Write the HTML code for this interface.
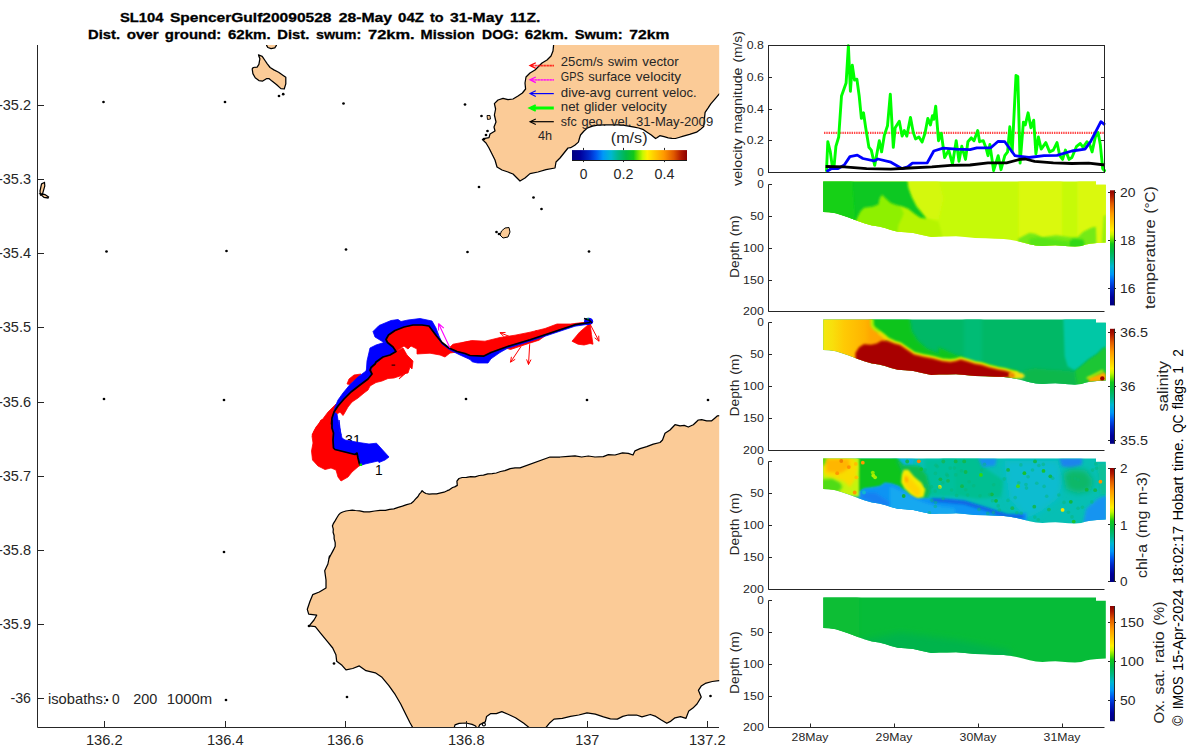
<!DOCTYPE html>
<html><head><meta charset="utf-8"><title>SL104 SpencerGulf20090528</title>
<style>
html,body{margin:0;padding:0;background:#fff;}
body{width:1200px;height:750px;overflow:hidden;font-family:"Liberation Sans",sans-serif;}
svg{display:block;font-family:"Liberation Sans",sans-serif;}
</style></head><body>
<svg width="1200" height="750" viewBox="0 0 1200 750">
<rect width="1200" height="750" fill="#fff"/>
<defs><clipPath id="mapclip"><rect x="37.5" y="45" width="681.7" height="682.5"/></clipPath></defs><g clip-path="url(#mapclip)"><path d="M760,720 L760,410 L743.3,415 L717.5,415.8 L715,418 L711.7,420.8 L706.7,420.8 L701.7,419.7 L698.3,420 L693.3,424.7 L688.3,427 L684.2,425.3 L680,425.8 L675,424.7 L670,430 L665,433.3 L662.5,440 L660,442.5 L653.3,444.2 L646.7,446.7 L640,448.7 L635,450.8 L633,455 L628.3,453.3 L622.5,452.8 L615,455 L608.3,454.7 L603.3,456.7 L595,457 L588.3,456 L581.7,457 L575,455.8 L568.3,456.3 L560,457 L550,457 L520,467.9 L515.1,467.9 L510.2,468.7 L504.9,470.6 L500.6,471.5 L496.3,473 L492.1,473.6 L487.8,473.8 L483.5,475.1 L479.3,475.5 L475,476.8 L470.7,476.6 L466.5,477.3 L462.2,477.5 L459,478.5 L456.9,481.1 L457.3,485.4 L454.7,486.9 L452.6,487.5 L449.4,489.8 L447.2,490.7 L444,492.2 L440.8,492.8 L436.6,493.9 L432.3,493.9 L429.1,494.1 L425.9,493.5 L423.8,492.2 L422.1,490.7 L420.8,492.6 L419.5,493.9 L418,496.5 L416.3,498.2 L413.7,501.2 L411,503.5 L406.7,504.6 L402.4,506.1 L398.2,507.3 L393.9,508.8 L389.6,509.3 L385.4,510.3 L380,510.3 L374.7,511 L369.4,511.8 L364,511.8 L359.8,510.8 L355.5,510.5 L352.3,510.1 L349.1,510.5 L345.9,511 L342.7,512 L340.1,513.3 L338.4,515.2 L336.7,518 L335.2,520.6 L333.5,523.3 L332.4,525.9 L333.3,529.1 L333.1,532.3 L334.1,535.5 L334.1,538.7 L335.2,542.6 L335.2,546.2 L333.7,549.4 L332,552.6 L330.3,555.8 L328.8,559 L329.5,556 L327.9,564 L324.7,570.7 L326,580 L326,588 L319.3,592 L312.7,594.7 L310,601.3 L307.3,609.3 L308.7,614.1 L316.7,615.2 L314,620 L309.2,625.9 L315.3,626.7 L320.7,633.3 L327.3,641.3 L332.7,648 L335.9,654.7 L336.7,661.3 L342,665.3 L346,669.9 L352.7,668.5 L359.3,665.9 L366,670.7 L375.3,672.8 L382,677.3 L388.7,685.3 L395.3,694.7 L400.7,704 L406,714.7 L410,722.7 L412.7,727.5 L412.4,727.7 L545.8,727.7 L549.9,722.7 L554,719.1 L562.3,718.3 L570.5,716.4 L578.8,715 L587,712.8 L595.3,714.2 L603.5,716.9 L610.4,718.9 L617.3,719.1 L622.8,716.4 L628.3,715 L636.5,715 L642,716.9 L650.3,714.5 L655.8,716.4 L661.3,720 L666.8,723.3 L670.9,721.1 L675,717.8 L680.5,716.7 L686,718.3 L688.8,710.9 L692.9,708.1 L697,704 L701.2,697.1 L698.4,690.3 L701.2,686.1 L705.3,683.4 L712.2,681.5 L719,680.6 L757.5,680.6Z" fill="#fbcb97" stroke="#000" stroke-width="1.25" stroke-linejoin="round"/>
<path d="M478.4,727.7 L479.8,724.6 L485.3,721.9 L486.6,716.4 L490.8,713.6 L496.3,713.6 L501.8,711.7 L508.6,714.5 L515.5,717.8 L523.8,723.3 L529.3,727.7" fill="#fff" stroke="#000" stroke-width="1.25" stroke-linejoin="round"/>
<path d="M454.2,727.7 L455,724.9 L459.1,723.3 L466,723 L472.1,724.4 L475.6,726 L476.5,727.7" fill="#fff" stroke="#000" stroke-width="1.25" stroke-linejoin="round"/>
<circle cx="483.9" cy="724.4" r="1.5" fill="#fff" stroke="#000" stroke-width="1.1"/>
<path d="M553.6,24 L553.6,45 L553,51 L551,56 L547,60 L542,63 L538,67 L535,70 L530,73 L526,77 L525,83 L525.6,89 L522.4,93 L518,96 L513,99 L508,99.6 L503,98.4 L498,100 L494.4,103.6 L495.6,109 L494.4,115 L496,122 L494,127 L495,131 L490,134 L489,137.6 L485,138.4 L482.4,139.6 L486,143 L489,148 L492,154 L495,160 L497,167 L502,170 L508,172 L513,174 L518,179 L520,181 L525,178 L530,173.6 L538,172 L546,169.6 L555,168 L556,162 L560,158 L564,153 L568,148 L570.6,147.7 L574.8,145.2 L578.4,142.1 L579.4,138.5 L580.5,135 L584,131 L587.6,127.9 L592.5,126.2 L597.5,125.1 L604.6,124.8 L611.7,124.8 L617.3,124.8 L623,125.1 L628.7,126.1 L634.3,127.2 L638.6,128 L642.8,129.3 L647.1,132.2 L651.3,135 L653.4,136.7 L655.6,138.5 L657.3,137.5 L659.8,135.7 L664.1,136.7 L668.3,137.8 L671.9,138.4 L675.4,138.5 L678.9,137.5 L682.5,136.4 L689.6,134.4 L696.6,132.2 L700.2,129.6 L703.7,126.5 L704.4,119.4 L705.1,112.3 L708,108.1 L710.8,103.8 L715.1,98.9 L719.3,93.9 L767.5,78.3 L767.5,35.8Z" fill="#fbcb97" stroke="#000" stroke-width="1.25" stroke-linejoin="round"/>
<path d="M258.5,54.9 L262.2,56.3 L265,60.5 L267.3,63.8 L270.1,67.5 L273.9,69.9 L278.6,72.2 L283.2,75.5 L285.8,77.3 L285.8,83.9 L284.2,89 L280.9,88.6 L276.7,84.8 L272,81.1 L269.2,78.7 L266.4,78.7 L262.7,81.1 L258.9,80.6 L255.2,77.8 L252.9,73.6 L252.2,68.9 L253.3,67.5 L257.1,67.1 L258.9,64.3 L259.9,58.7 L258.9,56.3Z" fill="#fbcb97" stroke="#000" stroke-width="1.25" stroke-linejoin="round"/>
<path d="M266.4,42.8 L266.6,45.4 L267.8,47.5 L271.1,48.6 L274.8,47.9 L276.4,45.4 L276.5,42.8Z" fill="#fbcb97" stroke="#000" stroke-width="1.25" stroke-linejoin="round"/>
<path d="M40,191 L41.5,184 L44.5,182.5 L44.8,186 L42.5,194 L40.5,195Z" fill="#fbcb97" stroke="#000" stroke-width="1.2"/>
<path d="M40.2,194 L42,194 L45,194.5 L48.5,197 L48,198 L44,197.5Z" fill="#fbcb97" stroke="#000" stroke-width="1.3"/>
<path d="M501.5,231 L505,228 L509,227.5 L510,232 L508,237 L503,238 L500,235Z" fill="#fbcb97" stroke="#000" stroke-width="1"/>
<path d="M487,115.5 L490,115.5 L490.5,119 L487.5,119.5Z" fill="#fbcb97" stroke="#000" stroke-width="0.9"/>
<circle cx="334.0" cy="663.5" r="1.35" fill="#000"/>
<circle cx="309.0" cy="626.0" r="1.35" fill="#000"/>
<circle cx="279.0" cy="96.0" r="1.35" fill="#000"/>
<circle cx="283.2" cy="94.2" r="1.35" fill="#000"/>
<circle cx="481.5" cy="116.0" r="1.35" fill="#000"/>
<circle cx="487.5" cy="131.0" r="1.35" fill="#000"/>
<circle cx="486.0" cy="135.0" r="1.35" fill="#000"/>
<circle cx="484.0" cy="139.0" r="1.35" fill="#000"/>
<circle cx="479.0" cy="187.0" r="1.35" fill="#000"/>
<circle cx="533.5" cy="197.5" r="1.35" fill="#000"/>
<circle cx="541.5" cy="209.0" r="1.35" fill="#000"/>
<circle cx="496.5" cy="232.0" r="1.35" fill="#000"/>
<circle cx="499.0" cy="234.0" r="1.35" fill="#000"/>
<circle cx="103.5" cy="102.0" r="1.35" fill="#000"/>
<circle cx="225.0" cy="102.0" r="1.35" fill="#000"/>
<circle cx="343.5" cy="103.5" r="1.35" fill="#000"/>
<circle cx="465.0" cy="104.5" r="1.35" fill="#000"/>
<circle cx="106.5" cy="251.5" r="1.35" fill="#000"/>
<circle cx="226.5" cy="251.0" r="1.35" fill="#000"/>
<circle cx="346.0" cy="249.5" r="1.35" fill="#000"/>
<circle cx="467.5" cy="252.0" r="1.35" fill="#000"/>
<circle cx="589.0" cy="251.5" r="1.35" fill="#000"/>
<circle cx="104.0" cy="399.0" r="1.35" fill="#000"/>
<circle cx="224.0" cy="400.0" r="1.35" fill="#000"/>
<circle cx="466.0" cy="399.0" r="1.35" fill="#000"/>
<circle cx="587.0" cy="400.0" r="1.35" fill="#000"/>
<circle cx="708.0" cy="400.0" r="1.35" fill="#000"/>
<circle cx="224.0" cy="552.0" r="1.35" fill="#000"/>
<circle cx="107.0" cy="700.0" r="1.35" fill="#000"/>
<circle cx="226.0" cy="700.0" r="1.35" fill="#000"/>
<circle cx="347.0" cy="697.0" r="1.35" fill="#000"/>
<circle cx="710.5" cy="696.0" r="1.35" fill="#000"/></g>
<g transform="translate(344.6,444.6)" font-size="13.79" fill="#000"><text x="0.5" y="0" textLength="15.7" lengthAdjust="spacingAndGlyphs">31</text></g>
<path d="M332,420 L321,420 L318,425 L314,431 L312,436 L313,443 L311.5,451 L312.5,460 L318,466 L325,469.5 L331,468 L336,470 L338,477 L341,481 L348,477 L352,472 L359,466 L360.5,465.5 L359.5,464 L358,458 L357,453 L355,454.5 L345,452 L335,449.5 L333.5,448 L333,440 L333.5,433 L332,428 L332,420Z" fill="#ff0000" stroke="#ff0000" stroke-width="0.8" stroke-linejoin="round"/>
<path d="M334,432 L332,429 L331.5,424 L332,418 L334,412 L336,404 L333,407 L328,412 L322,420 L316,427 L312,435 L320,436 L321,420 L332,420Z" fill="#ff0000" stroke="#ff0000" stroke-width="0.8" stroke-linejoin="round"/>
<path d="M337,414 L334,412 L338,406 L344,399 L351,392 L360,385 L368,379 L372,374 L370,370 L371,367.5 L375,364 L380,360 L376,362 L383,357 L390,355 L396,351.5 L403,348 L407,355 L413,361 L412,369 L410,367 L408,373 L403,374 L399,379 L406,373 L400,376 L394,378 L388,378.5 L382,381 L376,382.5 L370,386 L368,390 L364,393 L358,398 L352,402 L348,407 L344,414 L343,415.5 L340,412Z" fill="#ff0000" stroke="#ff0000" stroke-width="0.8" stroke-linejoin="round"/>
<path d="M347,384 L349,379 L354,375 L361,374 L358,377.5 L353,381.5 L350,384.5Z" fill="#ff0000" stroke="#ff0000" stroke-width="0.8" stroke-linejoin="round"/>
<path d="M396,351.5 L393,347 L387.5,342.5 L386,339.5 L388.5,335 L395,330.5 L404,327 L413,325 L422,325 L429,326 L432,330 L436.5,336 L442,342.5 L449,348 L453,344.2 L462,342.5 L470,341.5 L462.5,342.7 L471.5,340.5 L485,341.2 L500,337.5 L515,335.2 L530,332.2 L545,328.5 L557,324 L570.5,324 L582.5,322.5 L590,322.5 L590,322.5 L575,324.7 L552.5,332.2 L530,339.7 L507.5,346.5 L491,352.5 L483.5,356.2 L470,355.5 L465,353.5 L457,352 L450,353 L445,357 L440,355 L430,353.2 L417,354 L417,349 L411,346 L408,349 L404,346Z" fill="#ff0000" stroke="#ff0000" stroke-width="0.8" stroke-linejoin="round"/>
<path d="M504.5,347.7 L518,343.8 L536,338.4 L545,336 L539,340.2 L524,345 L510.5,349.5Z" fill="#ff0000" stroke="#ff0000" stroke-width="0.8" stroke-linejoin="round"/>
<path d="M590,323.2 L579.5,332.2 L572,341.2 L578,344.2 L584,345 L590,343.5 L593,344.2 L591.5,334.5Z" fill="#ff0000" stroke="#ff0000" stroke-width="0.8" stroke-linejoin="round"/>
<path d="M373,331.5 L379,325.5 L391,320.5 L398,319.5 L401,321.5 L408,320 L420,318.5 L432,321 L436,328 L439,336 L442,342.5 L436.5,336 L432,330 L429,326 L422,325 L413,325 L404,327 L395,330.5 L388.5,335 L386,339.5 L384,342.5 L375,337Z" fill="#0000ff" stroke="#0000ff" stroke-width="0.8" stroke-linejoin="round"/>
<path d="M386,339.5 L387.5,342.5 L393,347 L396,351.5 L390,355 L383,357 L376,362 L372,367 L370,373 L366,375 L367,361 L370,348 L376,345 L384,342.5Z" fill="#0000ff" stroke="#0000ff" stroke-width="0.8" stroke-linejoin="round"/>
<path d="M368,360 L369,366 L366,371 L358,377 L350,384.5 L343,393 L338,400 L335,407 L334,412 L338,406 L344,399 L351,392 L360,385 L368,379 L372,374 L370,370 L371,367.5 L375,364 L380,360Z" fill="#0000ff" stroke="#0000ff" stroke-width="0.8" stroke-linejoin="round"/>
<path d="M334,412 L337,414 L338,420 L339,425 L340,432 L341,435 L339,420 L339.5,428 L342,438 L345,440 L359,442.5 L369,444 L376.5,443.2 L389,457 L385,460 L379,462.5 L378,461 L365,464 L360.5,465.5 L360.5,465.5 L359.5,464 L358,458 L357,453 L355,454.5 L345,452 L335,449.5 L333.5,448 L333,440 L333.5,433 L332,428 L332,420 L332,429 L331.5,424 L332,418Z" fill="#0000ff" stroke="#0000ff" stroke-width="0.8" stroke-linejoin="round"/>
<path d="M436.5,336 L442,344 L450,350 L460,355 L470,359.5 L472.2,361.8 L477.5,363 L488,363 L491,358.8 L500,352.5 L507.5,348.3 L530,341.2 L552.5,333.7 L575,326.2 L590,324 L590,322.5 L575,324.7 L552.5,332.2 L530,339.7 L507.5,346.5 L491,352.5 L483.5,356.2 L470,355.5 L465,353.5 L457,351.5 L449,348 L442,342.5Z" fill="#0000ff" stroke="#0000ff" stroke-width="0.8" stroke-linejoin="round"/>
<ellipse cx="588.6" cy="321.4" rx="4.6" ry="3.6" fill="#0000ff"/>
<path d="M584,318.5 l5,1.5 l3,3" stroke="#000" stroke-width="1.6" fill="none"/>
<circle cx="588" cy="318.6" r="0.9" fill="#00c050"/>
<path d="M360.5,465.5 L359.5,464 L358,458 L357,453 L355,454.5 L345,452 L335,449.5 L333.5,448 L333,440 L333.5,433 L332,428 L332,420 L331.5,424 L332,418 L334,412 L338,406 L344,399 L351,392 L360,385 L368,379 L372,374 L370,370 L371,367.5 L375,364 L376,362 L383,357 L390,355 L396,351.5 L393,347 L387.5,342.5 L386,339.5 L388.5,335 L395,330.5 L404,327 L413,325 L422,325 L429,326 L432,330 L436.5,336 L442,342.5 L449,348 L457,351.5 L465,353.5 L470,355.5 L483.5,356.2 L491,352.5 L507.5,346.5 L530,339.7 L552.5,332.2 L575,324.7 L590,322.5" fill="none" stroke="#000" stroke-width="1.7" stroke-linejoin="round"/>
<path d="M521,346.5 L510.5,362.2 M510.5,362.2 L515.2,359.3 M510.5,362.2 L511.4,356.8" stroke="#ff0000" stroke-width="1" fill="none"/>
<path d="M529.7,344.2 L528.5,364.5 M528.5,364.5 L531.0,359.6 M528.5,364.5 L526.6,359.4" stroke="#ff0000" stroke-width="1" fill="none"/>
<path d="M512,337.5 L500,332.7 M500,332.7 L503.8,336.6 M500,332.7 L505.5,332.5" stroke="#ff0000" stroke-width="1" fill="none"/>
<path d="M590,324 L599,341.2 M599,341.2 L598.7,335.7 M599,341.2 L594.7,337.8" stroke="#ff0000" stroke-width="1" fill="none"/>
<path d="M539,334.5 L536,330.7 M536,330.7 L537.4,336.0 M536,330.7 L540.9,333.3" stroke="#ff0000" stroke-width="1" fill="none"/>
<path d="M450,348 L438.5,323.5 M438.5,323.5 L438.6,330.5 M438.5,323.5 L443.8,328.1" stroke="#ff00ff" stroke-width="1.1" fill="none"/>
<g transform="translate(374.6,474.8)" font-size="13.79" fill="#000"><text x="4.2" y="0" text-anchor="middle">1</text></g>
<rect x="359.6" y="463.6" width="2.4" height="2.4" fill="#00dd00"/>
<rect x="391.6" y="364.6" width="3.6" height="1" fill="#000"/>
<text x="120" y="22" font-size="13.2" font-weight="bold" textLength="43.5" lengthAdjust="spacingAndGlyphs" fill="#000" stroke="#000" stroke-width="0.3">SL104</text><text x="169.9" y="22" font-size="13.2" font-weight="bold" textLength="161.6" lengthAdjust="spacingAndGlyphs" fill="#000" stroke="#000" stroke-width="0.3">SpencerGulf20090528</text><text x="338.7" y="22" font-size="13.2" font-weight="bold" textLength="53.3" lengthAdjust="spacingAndGlyphs" fill="#000" stroke="#000" stroke-width="0.3">28-May</text><text x="398.1" y="22" font-size="13.2" font-weight="bold" textLength="25.9" lengthAdjust="spacingAndGlyphs" fill="#000" stroke="#000" stroke-width="0.3">04Z</text><text x="429.9" y="22" font-size="13.2" font-weight="bold" textLength="13.6" lengthAdjust="spacingAndGlyphs" fill="#000" stroke="#000" stroke-width="0.3">to</text><text x="449.9" y="22" font-size="13.2" font-weight="bold" textLength="53.3" lengthAdjust="spacingAndGlyphs" fill="#000" stroke="#000" stroke-width="0.3">31-May</text><text x="509.9" y="22" font-size="13.2" font-weight="bold" textLength="30.4" lengthAdjust="spacingAndGlyphs" fill="#000" stroke="#000" stroke-width="0.3">11Z.</text>
<text x="88" y="38.6" font-size="13.2" font-weight="bold" textLength="32" lengthAdjust="spacingAndGlyphs" fill="#000" stroke="#000" stroke-width="0.3">Dist.</text><text x="126.7" y="38.6" font-size="13.2" font-weight="bold" textLength="32.0" lengthAdjust="spacingAndGlyphs" fill="#000" stroke="#000" stroke-width="0.3">over</text><text x="164.8" y="38.6" font-size="13.2" font-weight="bold" textLength="56.5" lengthAdjust="spacingAndGlyphs" fill="#000" stroke="#000" stroke-width="0.3">ground:</text><text x="228" y="38.6" font-size="13.2" font-weight="bold" textLength="42.7" lengthAdjust="spacingAndGlyphs" fill="#000" stroke="#000" stroke-width="0.3">62km.</text><text x="277.3" y="38.6" font-size="13.2" font-weight="bold" textLength="32.0" lengthAdjust="spacingAndGlyphs" fill="#000" stroke="#000" stroke-width="0.3">Dist.</text><text x="316" y="38.6" font-size="13.2" font-weight="bold" textLength="45.3" lengthAdjust="spacingAndGlyphs" fill="#000" stroke="#000" stroke-width="0.3">swum:</text><text x="368" y="38.6" font-size="13.2" font-weight="bold" textLength="46.7" lengthAdjust="spacingAndGlyphs" fill="#000" stroke="#000" stroke-width="0.3">72km.</text><text x="420.5" y="38.6" font-size="13.2" font-weight="bold" textLength="54.2" lengthAdjust="spacingAndGlyphs" fill="#000" stroke="#000" stroke-width="0.3">Mission</text><text x="482.1" y="38.6" font-size="13.2" font-weight="bold" textLength="36.6" lengthAdjust="spacingAndGlyphs" fill="#000" stroke="#000" stroke-width="0.3">DOG:</text><text x="524.8" y="38.6" font-size="13.2" font-weight="bold" textLength="43.2" lengthAdjust="spacingAndGlyphs" fill="#000" stroke="#000" stroke-width="0.3">62km.</text><text x="574.7" y="38.6" font-size="13.2" font-weight="bold" textLength="48.0" lengthAdjust="spacingAndGlyphs" fill="#000" stroke="#000" stroke-width="0.3">Swum:</text><text x="629.3" y="38.6" font-size="13.2" font-weight="bold" textLength="40.0" lengthAdjust="spacingAndGlyphs" fill="#000" stroke="#000" stroke-width="0.3">72km</text>
<path d="M37.5,45 V727.5 H719" fill="none" stroke="#262626" stroke-width="1"/>
<path d="M37.5,105.5 h6.5" stroke="#262626" stroke-width="1"/>
<g transform="translate(31.5,110.3)" font-size="13.79" fill="#262626"><text x="-33.6" y="0" textLength="33.1" lengthAdjust="spacingAndGlyphs">-35.2</text></g>
<path d="M37.5,179.5 h6.5" stroke="#262626" stroke-width="1"/>
<g transform="translate(31.5,184.3)" font-size="13.79" fill="#262626"><text x="-33.6" y="0" textLength="33.1" lengthAdjust="spacingAndGlyphs">-35.3</text></g>
<path d="M37.5,253.5 h6.5" stroke="#262626" stroke-width="1"/>
<g transform="translate(31.5,258.3)" font-size="13.79" fill="#262626"><text x="-33.6" y="0" textLength="33.1" lengthAdjust="spacingAndGlyphs">-35.4</text></g>
<path d="M37.5,327.5 h6.5" stroke="#262626" stroke-width="1"/>
<g transform="translate(31.5,332.3)" font-size="13.79" fill="#262626"><text x="-33.6" y="0" textLength="33.1" lengthAdjust="spacingAndGlyphs">-35.5</text></g>
<path d="M37.5,402.5 h6.5" stroke="#262626" stroke-width="1"/>
<g transform="translate(31.5,407.3)" font-size="13.79" fill="#262626"><text x="-33.6" y="0" textLength="33.1" lengthAdjust="spacingAndGlyphs">-35.6</text></g>
<path d="M37.5,476.5 h6.5" stroke="#262626" stroke-width="1"/>
<g transform="translate(31.5,481.3)" font-size="13.79" fill="#262626"><text x="-33.6" y="0" textLength="33.1" lengthAdjust="spacingAndGlyphs">-35.7</text></g>
<path d="M37.5,550.5 h6.5" stroke="#262626" stroke-width="1"/>
<g transform="translate(31.5,555.3)" font-size="13.79" fill="#262626"><text x="-33.6" y="0" textLength="33.1" lengthAdjust="spacingAndGlyphs">-35.8</text></g>
<path d="M37.5,624.5 h6.5" stroke="#262626" stroke-width="1"/>
<g transform="translate(31.5,629.3)" font-size="13.79" fill="#262626"><text x="-33.6" y="0" textLength="33.1" lengthAdjust="spacingAndGlyphs">-35.9</text></g>
<path d="M37.5,698.5 h6.5" stroke="#262626" stroke-width="1"/>
<g transform="translate(31.5,703.3)" font-size="13.79" fill="#262626"><text x="-21.0" y="0" textLength="20.5" lengthAdjust="spacingAndGlyphs">-36</text></g>
<path d="M104.5,727.5 v-6.5" stroke="#262626" stroke-width="1"/>
<g transform="translate(104.3,745)" font-size="13.79" fill="#262626"><text x="-18.4" y="0" textLength="36.7" lengthAdjust="spacingAndGlyphs">136.2</text></g>
<path d="M225.5,727.5 v-6.5" stroke="#262626" stroke-width="1"/>
<g transform="translate(225.3,745)" font-size="13.79" fill="#262626"><text x="-18.4" y="0" textLength="36.7" lengthAdjust="spacingAndGlyphs">136.4</text></g>
<path d="M345.5,727.5 v-6.5" stroke="#262626" stroke-width="1"/>
<g transform="translate(345.3,745)" font-size="13.79" fill="#262626"><text x="-18.4" y="0" textLength="36.7" lengthAdjust="spacingAndGlyphs">136.6</text></g>
<path d="M466.5,727.5 v-6.5" stroke="#262626" stroke-width="1"/>
<g transform="translate(466.3,745)" font-size="13.79" fill="#262626"><text x="-18.4" y="0" textLength="36.7" lengthAdjust="spacingAndGlyphs">136.8</text></g>
<path d="M587.5,727.5 v-6.5" stroke="#262626" stroke-width="1"/>
<g transform="translate(587.3,745)" font-size="13.79" fill="#262626"><text x="-12.1" y="0" textLength="24.1" lengthAdjust="spacingAndGlyphs">137</text></g>
<path d="M707.5,727.5 v-6.5" stroke="#262626" stroke-width="1"/>
<g transform="translate(707.3,745)" font-size="13.79" fill="#262626"><text x="-18.4" y="0" textLength="36.7" lengthAdjust="spacingAndGlyphs">137.2</text></g>
<g transform="translate(47.5,704)" font-size="13.79" fill="#262626"><text x="0.5" y="0" textLength="58.9" lengthAdjust="spacingAndGlyphs">isobaths:</text><text x="68.3" y="0" text-anchor="middle">0</text><text x="85.7" y="0" textLength="24.1" lengthAdjust="spacingAndGlyphs">200</text><text x="119.3" y="0" textLength="45.4" lengthAdjust="spacingAndGlyphs">1000m</text></g>
<g transform="translate(560.3,66.3)" font-size="12.36" fill="#262626"><text x="0.5" y="0" textLength="42.3" lengthAdjust="spacingAndGlyphs">25cm/s</text><text x="47.5" y="0" textLength="29.7" lengthAdjust="spacingAndGlyphs">swim</text><text x="81.9" y="0" textLength="36.6" lengthAdjust="spacingAndGlyphs">vector</text></g>
<g transform="translate(560.3,81.4)" font-size="12.36" fill="#262626"><text x="0.5" y="0" textLength="22.9" lengthAdjust="spacingAndGlyphs">GPS</text><text x="28.0" y="0" textLength="42.8" lengthAdjust="spacingAndGlyphs">surface</text><text x="75.5" y="0" textLength="45.3" lengthAdjust="spacingAndGlyphs">velocity</text></g>
<g transform="translate(560.3,96.5)" font-size="12.36" fill="#262626"><text x="0.5" y="0" textLength="50.2" lengthAdjust="spacingAndGlyphs">dive-avg</text><text x="55.3" y="0" textLength="42.2" lengthAdjust="spacingAndGlyphs">current</text><text x="102.2" y="0" textLength="34.1" lengthAdjust="spacingAndGlyphs">veloc.</text></g>
<g transform="translate(560.3,111.4)" font-size="12.36" fill="#262626"><text x="0.5" y="0" textLength="18.5" lengthAdjust="spacingAndGlyphs">net</text><text x="23.6" y="0" textLength="32.8" lengthAdjust="spacingAndGlyphs">glider</text><text x="61.1" y="0" textLength="45.3" lengthAdjust="spacingAndGlyphs">velocity</text></g>
<g transform="translate(560.3,126.4)" font-size="12.36" fill="#262626"><text x="0.5" y="0" textLength="15.9" lengthAdjust="spacingAndGlyphs">sfc</text><text x="21.1" y="0" textLength="24.8" lengthAdjust="spacingAndGlyphs">geo.</text><text x="50.6" y="0" textLength="20.4" lengthAdjust="spacingAndGlyphs">vel.</text><text x="75.7" y="0" textLength="77.2" lengthAdjust="spacingAndGlyphs">31-May-2009</text></g>
<g transform="translate(537.5,139.8)" font-size="12.36" fill="#262626"><text x="0.5" y="0" textLength="14.1" lengthAdjust="spacingAndGlyphs">4h</text></g>
<g transform="translate(629.2,142.7)" font-size="15.15" fill="#262626"><text x="-18.4" y="0" textLength="36.7" lengthAdjust="spacingAndGlyphs">(m/s)</text></g>
<path d="M553.8,65.6 H531" stroke="#ff0000" stroke-width="1.7" stroke-dasharray="1 0.5" fill="none"/><path d="M535.8000000000001,62.8 L530,65.6 L535.8000000000001,68.39999999999999" stroke="#ff0000" stroke-width="1.275" fill="none" stroke-linejoin="miter"/>
<path d="M553.8,79.8 H531" stroke="#ff00ff" stroke-width="1.7" stroke-dasharray="1 0.5" fill="none"/><path d="M535.8000000000001,77.0 L530,79.8 L535.8000000000001,82.6" stroke="#ff00ff" stroke-width="1.275" fill="none" stroke-linejoin="miter"/>
<path d="M553.8,93.6 H531" stroke="#0000ff" stroke-width="1.2" fill="none"/><path d="M535.8000000000001,90.8 L530,93.6 L535.8000000000001,96.39999999999999" stroke="#0000ff" stroke-width="1.1" fill="none" stroke-linejoin="miter"/>
<path d="M553.8,108 H531" stroke="#00ff00" stroke-width="3" fill="none"/><path d="M535.8000000000001,105.2 L530,108 L535.8000000000001,110.8" stroke="#00ff00" stroke-width="2.25" fill="none" stroke-linejoin="miter"/>
<path d="M553.8,121.7 H531" stroke="#000000" stroke-width="1.2" fill="none"/><path d="M535.8000000000001,118.9 L530,121.7 L535.8000000000001,124.5" stroke="#000000" stroke-width="1.1" fill="none" stroke-linejoin="miter"/>
<rect x="572" y="150.1" width="115" height="10.4" fill="url(#cmh)"/><path d="M572,160.5 H687" stroke="#1a1a1a" stroke-width="1"/>
<path d="M583.5,150.1 v-2.2 M583.5,160.5 v1.6" stroke="#262626" stroke-width="1"/>
<g transform="translate(583.5,178.7)" font-size="13.79" fill="#262626"><text x="0.0" y="0" text-anchor="middle">0</text></g>
<path d="M623.5,150.1 v-2.2 M623.5,160.5 v1.6" stroke="#262626" stroke-width="1"/>
<g transform="translate(623.5,178.7)" font-size="13.79" fill="#262626"><text x="-10.0" y="0" textLength="19.9" lengthAdjust="spacingAndGlyphs">0.2</text></g>
<path d="M664.5,150.1 v-2.2 M664.5,160.5 v1.6" stroke="#262626" stroke-width="1"/>
<g transform="translate(664.5,178.7)" font-size="13.79" fill="#262626"><text x="-10.0" y="0" textLength="19.9" lengthAdjust="spacingAndGlyphs">0.4</text></g>
<defs>
<linearGradient id="cmv" x1="0" y1="1" x2="0" y2="0"><stop offset="0" stop-color="#00007f"/><stop offset="0.07" stop-color="#00009c"/><stop offset="0.15" stop-color="#0028c8"/><stop offset="0.21" stop-color="#0058f0"/><stop offset="0.27" stop-color="#0098f8"/><stop offset="0.34" stop-color="#00b8d0"/><stop offset="0.4" stop-color="#00b888"/><stop offset="0.47" stop-color="#00b848"/><stop offset="0.535" stop-color="#10c818"/><stop offset="0.575" stop-color="#70e400"/><stop offset="0.615" stop-color="#c8f800"/><stop offset="0.655" stop-color="#fff000"/><stop offset="0.72" stop-color="#ffc800"/><stop offset="0.8" stop-color="#ff9800"/><stop offset="0.885" stop-color="#e05800"/><stop offset="0.95" stop-color="#b01800"/><stop offset="1" stop-color="#8b0000"/></linearGradient>
<linearGradient id="cmh" x1="0" y1="0" x2="1" y2="0"><stop offset="0" stop-color="#00007f"/><stop offset="0.07" stop-color="#00009c"/><stop offset="0.15" stop-color="#0028c8"/><stop offset="0.21" stop-color="#0058f0"/><stop offset="0.27" stop-color="#0098f8"/><stop offset="0.34" stop-color="#00b8d0"/><stop offset="0.4" stop-color="#00b888"/><stop offset="0.47" stop-color="#00b848"/><stop offset="0.535" stop-color="#10c818"/><stop offset="0.575" stop-color="#70e400"/><stop offset="0.615" stop-color="#c8f800"/><stop offset="0.655" stop-color="#fff000"/><stop offset="0.72" stop-color="#ffc800"/><stop offset="0.8" stop-color="#ff9800"/><stop offset="0.885" stop-color="#e05800"/><stop offset="0.95" stop-color="#b01800"/><stop offset="1" stop-color="#8b0000"/></linearGradient>
<clipPath id="clip2"><path d="M823.2,181.6 L1096,181.6 L1096,184.8 L1105.8,184.8 L1105.8,242.6 L1097,243 L1090,243.7 L1086,244.6 L1081.2,246 L1075,246.4 L1068.3,246.2 L1062,245.8 L1055.4,245.3 L1049,245.4 L1042.5,246 L1036,245.6 L1029.6,244.2 L1023,242.5 L1016.7,240.9 L1010,239.8 L1003.8,239 L995,238.7 L985.7,238.3 L975,238 L965,237 L956,236.2 L947,236.5 L939,236.6 L931.4,237 L922,235 L913.3,233.1 L905,232.3 L897.8,231.8 L891,230 L885,228 L879,226.5 L872,225.4 L865,223.5 L857.8,221 L848.7,217.6 L842,215.2 L835.8,213.2 L829,212.3 L823.2,212Z"/></clipPath>
<clipPath id="clip3"><path d="M823.2,319.6 L1096,319.6 L1096,322.8 L1105.8,322.8 L1105.8,380.6 L1097,381 L1090,381.7 L1086,382.6 L1081.2,384 L1075,384.4 L1068.3,384.2 L1062,383.8 L1055.4,383.3 L1049,383.4 L1042.5,384 L1036,383.6 L1029.6,382.2 L1023,380.5 L1016.7,378.9 L1010,377.8 L1003.8,377 L995,376.7 L985.7,376.3 L975,376 L965,375 L956,374.2 L947,374.5 L939,374.6 L931.4,375 L922,373 L913.3,371.1 L905,370.3 L897.8,369.8 L891,368 L885,366 L879,364.5 L872,363.4 L865,361.5 L857.8,359 L848.7,355.6 L842,353.2 L835.8,351.2 L829,350.3 L823.2,350Z"/></clipPath>
<clipPath id="clip4"><path d="M823.2,458.6 L1096,458.6 L1096,461.8 L1105.8,461.8 L1105.8,519.6 L1097,520 L1090,520.7 L1086,521.6 L1081.2,523 L1075,523.4 L1068.3,523.2 L1062,522.8 L1055.4,522.3 L1049,522.4 L1042.5,523 L1036,522.6 L1029.6,521.2 L1023,519.5 L1016.7,517.9 L1010,516.8 L1003.8,516 L995,515.7 L985.7,515.3 L975,515 L965,514 L956,513.2 L947,513.5 L939,513.6 L931.4,514 L922,512 L913.3,510.1 L905,509.3 L897.8,508.8 L891,507 L885,505 L879,503.5 L872,502.4 L865,500.5 L857.8,498 L848.7,494.6 L842,492.2 L835.8,490.2 L829,489.3 L823.2,489Z"/></clipPath>
<clipPath id="clip5"><path d="M823.2,597.6 L1096,597.6 L1096,600.8 L1105.8,600.8 L1105.8,658.6 L1097,659 L1090,659.7 L1086,660.6 L1081.2,662 L1075,662.4 L1068.3,662.2 L1062,661.8 L1055.4,661.3 L1049,661.4 L1042.5,662 L1036,661.6 L1029.6,660.2 L1023,658.5 L1016.7,656.9 L1010,655.8 L1003.8,655 L995,654.7 L985.7,654.3 L975,654 L965,653 L956,652.2 L947,652.5 L939,652.6 L931.4,653 L922,651 L913.3,649.1 L905,648.3 L897.8,647.8 L891,646 L885,644 L879,642.5 L872,641.4 L865,639.5 L857.8,637 L848.7,633.6 L842,631.2 L835.8,629.2 L829,628.3 L823.2,628Z"/></clipPath>
<filter id="b1" x="-20%" y="-20%" width="140%" height="140%"><feGaussianBlur stdDeviation="0.8"/></filter>
<filter id="b2" x="-20%" y="-20%" width="140%" height="140%"><feGaussianBlur stdDeviation="1.6"/></filter>
<filter id="b3" x="-30%" y="-30%" width="160%" height="160%"><feGaussianBlur stdDeviation="3"/></filter>
</defs>
<path d="M824,132.8 H1104.5" stroke="#ff0000" stroke-width="2.3" stroke-dasharray="1.4 0.9" opacity="0.72"/>
<path d="M826.5,170.6 L827.8,141.7 L830.3,151.9 L832.1,165 L834,166.9 L835.9,146.3 L838.7,137 L841.5,96 L846.1,82.9 L848.4,45.6 L850.4,91.3 L852.3,65.2 L854.5,80.1 L856.9,79.2 L859.2,96 L861.4,118.4 L863.5,112.8 L865.7,127.7 L868.9,147.3 L871.3,150.1 L874.7,165.4 L879.3,140.7 L881.6,151.9 L884.4,135.1 L887.5,125.8 L890.3,94.1 L893.3,147.3 L895.2,127.7 L899.3,121.2 L902.1,136.1 L904.3,130.5 L906.8,136.1 L910.5,117.4 L913.3,132.4 L915.5,138.9 L918.9,137 L922.1,142.1 L925,133.3 L927.8,118.4 L930.4,124.9 L932.5,115.6 L933.8,119.3 L935.7,106.2 L938.5,140.7 L941.3,133.3 L944.6,157.5 L948.7,150.1 L952.5,164.1 L956.2,140.7 L959,161.3 L961.8,146.3 L965.5,159.4 L967.9,141.7 L971.2,137.9 L974,140.7 L977.7,130.5 L979.6,141.7 L983.3,140.7 L986.1,148.2 L988,155.7 L989.9,144.5 L993.6,170.6 L998.2,155.7 L1001,169.7 L1004.8,155.7 L1007.6,151.9 L1009.8,126.8 L1012.2,151.9 L1016,75.4 L1017.8,76.4 L1020.1,163.1 L1023.4,122.1 L1025.3,124.9 L1028.1,112.8 L1030.9,127.7 L1033.7,120.2 L1035.9,153.8 L1038.4,137 L1041.2,149.1 L1045.8,142.6 L1049.6,151.9 L1053.3,150.1 L1057,142.6 L1059.8,155.7 L1062.6,159.4 L1065.4,150.1 L1069.1,159.4 L1071.9,157.5 L1076.6,146.3 L1080.3,143.5 L1083.1,147.3 L1086.9,141.7 L1089.7,144.5 L1092.1,151.9 L1095.3,137 L1098.1,132.4 L1100.3,144.5 L1102.7,168.7 L1104.6,170.6" fill="none" stroke="#00ff00" stroke-width="2.9" stroke-linejoin="round" stroke-linecap="round"/>
<path d="M826.5,171.5 L831.2,168.7 L837.7,168.7 L844.3,165 L849.9,156.6 L857.3,155.1 L862.9,158.5 L874.1,160.9 L877.8,159 L890.9,162.2 L902.1,168.7 L907.7,166.9 L912.4,163.1 L927.3,162.8 L933.8,151 L943.1,148.2 L956.2,149.1 L970,149.7 L976.8,147.8 L990.8,147.8 L998.2,141.3 L1004.8,141.7 L1015,155.7 L1029,157.5 L1044,155.7 L1057,155.3 L1071.9,151 L1085,149.1 L1090.6,141.7 L1100.9,121.7 L1105,124.9" fill="none" stroke="#0000ff" stroke-width="2.8" stroke-linejoin="round"/>
<path d="M825.6,166.5 L844.3,166.9 L866.6,168.7 L890.9,169.1 L909.6,168 L931.9,166.9 L950.6,165.4 L970,165 L988,162.8 L1006.6,162.8 L1019.7,159.4 L1025.3,159 L1034.6,161.3 L1053.3,162.8 L1071.9,163.5 L1088.7,163.1 L1105,165" fill="none" stroke="#000" stroke-width="2.8" stroke-linejoin="round"/>
<rect x="768.5" y="45.5" width="336.0" height="127" fill="none" stroke="#262626" stroke-width="1"/>
<path d="M768.5,172.5 h3.5 M1104.5,172.5 h-3.5" stroke="#262626" stroke-width="1"/>
<g transform="translate(764.2,176.2)" font-size="11.81" fill="#262626"><text x="-3.6" y="0" text-anchor="middle">0</text></g>
<path d="M768.5,140.5 h3.5 M1104.5,140.5 h-3.5" stroke="#262626" stroke-width="1"/>
<g transform="translate(764.2,144.2)" font-size="11.81" fill="#262626"><text x="-17.5" y="0" textLength="17.1" lengthAdjust="spacingAndGlyphs">0.2</text></g>
<path d="M768.5,109.5 h3.5 M1104.5,109.5 h-3.5" stroke="#262626" stroke-width="1"/>
<g transform="translate(764.2,113.2)" font-size="11.81" fill="#262626"><text x="-17.5" y="0" textLength="17.1" lengthAdjust="spacingAndGlyphs">0.4</text></g>
<path d="M768.5,77.5 h3.5 M1104.5,77.5 h-3.5" stroke="#262626" stroke-width="1"/>
<g transform="translate(764.2,81.2)" font-size="11.81" fill="#262626"><text x="-17.5" y="0" textLength="17.1" lengthAdjust="spacingAndGlyphs">0.6</text></g>
<path d="M768.5,45.5 h3.5 M1104.5,45.5 h-3.5" stroke="#262626" stroke-width="1"/>
<g transform="translate(764.2,49.2)" font-size="11.81" fill="#262626"><text x="-17.5" y="0" textLength="17.1" lengthAdjust="spacingAndGlyphs">0.8</text></g>
<g transform="translate(741.8,108.6) rotate(-90)" font-size="12.96" fill="#262626"><text x="-77.4" y="0" textLength="47.5" lengthAdjust="spacingAndGlyphs">velocity</text><text x="-25.0" y="0" textLength="66.1" lengthAdjust="spacingAndGlyphs">magnitude</text><text x="46.0" y="0" textLength="31.4" lengthAdjust="spacingAndGlyphs">(m/s)</text></g>
<g clip-path="url(#clip2)">
<g transform="translate(0,0.0)"><rect x="820" y="175" width="290" height="80" fill="#c6fa08"/>
<rect x="1018.7" y="175" width="43.3" height="80" fill="#daf910" filter="url(#b1)"/>
<rect x="1077.5" y="175" width="30" height="80" fill="#daf910" filter="url(#b1)"/>
<path d="M908.3,179.7 L938.7,179.7 L943.3,198.3 L938.7,219.3 L927,219.3 L917.7,204.2 L910.7,192.5Z" fill="#d4f80c" filter="url(#b2)"/>
<path d="M850,204.2 L880.3,192.5 L903.7,204.2 L927,218.2 L938.7,221.7 L943.3,240.3 L850,240.3Z" fill="#b6f406" filter="url(#b1)"/>
<path d="M853.5,205.3 L864,206.5 L873.3,205.3 L878.6,203 L880.9,193.7 L886.2,196 L895.5,204.2 L901.3,207.7 L903.7,213.5 L901.3,219.3 L898.4,225.2 L896.7,235.7 L850,235.7Z" fill="#8ef000" filter="url(#b1)"/>
<path d="M819.7,179.7 L907.2,179.7 L908.3,187.8 L911.8,197.2 L916.5,206.5 L922.3,213.5 L926.4,218.8 L920,217.6 L914.2,213.5 L908.3,208.8 L902.5,206.5 L896.7,205.3 L890.8,203 L885,197.8 L882.1,194.8 L879.8,198.3 L878.6,204.2 L873.3,206.5 L864,207.7 L860.5,211.2 L858.2,215.8 L855.8,221.1 L819.7,221.1Z" fill="#08c820" filter="url(#b1)"/>
<path d="M819.7,179.7 L852.3,179.7 L853.5,198.3 L855.3,221.1 L819.7,221.1Z" fill="#12d016" filter="url(#b1)"/>
<path d="M1018,238.7 L1029.3,233.1 L1035,233.8 L1042.1,237.3 L1056.2,235.2 L1070.4,237.3 L1077.5,237.3 L1083.2,231.7 L1091.7,227.4 L1095.9,226.7 L1096.6,248.7 L1018,248.7Z" fill="#74ea14" filter="url(#b1)"/>
<path d="M1069,241.6 L1073.2,238.7 L1083.2,239.5 L1084.6,244.4 L1081.7,248.7 L1069,248.7Z" fill="#30d818" filter="url(#b1)"/>
<path d="M1029.3,238.7 L1037.8,237.3 L1049.2,238.7 L1069,241.6 L1069,248.7 L1029.3,248.7Z" fill="#58e414" filter="url(#b1)"/>
<path d="M1103.7,216.1 L1106.5,214.7 L1106.5,245.8 L1101.6,245.8Z" fill="#96f00c" filter="url(#b1)"/></g>
</g>
<g clip-path="url(#clip3)">
<g transform="translate(0,-0.2)"><rect x="820" y="314" width="290" height="80" fill="#00b866"/>
<path d="M869.8,317.5 L909.5,317.5 L911.8,331.5 L917.7,340.8 L927,349 L938.7,353.7 L938.5,347.5 L956,355.1 L972.3,359.2 L988.7,365 L1005,369.7 L1016.7,370.8 L1016.7,381.3 L869.8,365.3Z" fill="#10c41c" filter="url(#b2)"/>
<path d="M1063.3,316.8 L1064.7,356.5 L1067.6,366.4 L1074.7,370.7 L1080.3,366.4 L1088.8,359.3 L1097.3,353.7 L1103,348 L1108.7,345.9 L1108.7,316.8Z" fill="#00c8a6" filter="url(#b1)"/>
<path d="M1074.7,371.4 L1080.3,367.1 L1088.8,360 L1097.3,354.4 L1103,348.7 L1108.7,346.6 L1108.7,387.7 L1071.8,387.7Z" fill="#1cc634" filter="url(#b1)"/>
<path d="M1023.7,370.7 L1035,368.5 L1049.2,370 L1063.3,370.7 L1074.7,372.1 L1077.5,387.7 L1023.7,387.7Z" fill="#0cb84c" filter="url(#b2)"/>
<rect x="964" y="314" width="18" height="50" fill="#00bc74" filter="url(#b2)"/>
<defs><linearGradient id="salL" x1="0" y1="0" x2="1" y2="0"><stop offset="0" stop-color="#f0ec10"/><stop offset="0.18" stop-color="#f8e00c"/><stop offset="0.36" stop-color="#ffca04"/><stop offset="0.66" stop-color="#ffb400"/><stop offset="0.75" stop-color="#ffa600"/><stop offset="1" stop-color="#ffa200"/></linearGradient></defs>
<path d="M819.7,317.5 L871.8,317.5 L872.2,325.7 L873.9,328.2 L878.6,331.7 L883.3,335.2 L887.9,339.3 L880.3,344.3 L855.8,360.7 L819.7,360.7Z" fill="url(#salL)"/>
<path d="M871.8,317.5 L872.2,325.7 L873.9,328.2 L878.6,331.7 L883.3,335.2 L887.9,339.3 L894.9,342.5 L900,344.1 L907,348.8 L914,353.5 L923.3,355.8 L932.7,357.5 L942,360.1 L950.2,361 L956,360.1 L960.7,358.7 L967.7,360.5 L974.7,362.8 L981.7,364 L988.7,366.3 L998,368.6 L1005,369.8 L1010.8,371.5 L1017.8,373.4" fill="none" stroke="#b0f000" stroke-width="3.4" filter="url(#b1)"/>
<path d="M878.6,332.9 L883.3,336.4 L887.9,340.5 L894.9,343.7 L900,345.3 L907,350 L914,354.7 L923.3,357 L932.7,358.7 L942,361.3 L950.2,362.2 L956,361.3 L960.7,359.9 L967.7,361.7 L974.7,364 L981.7,365.2 L988.7,367.5 L998,369.8 L1005,371 L1010.8,372.7 L1017.8,374.6" fill="none" stroke="#ffd000" stroke-width="2.4" filter="url(#b1)"/>
<path d="M855.8,353.1 L859.3,347.8 L864,344.6 L871,345.3 L876.8,344 L881.5,341.1 L887.3,341.5 L894.3,344.1 L900,345.8 L907,350.4 L914,355.1 L923.3,357.4 L932.7,359.2 L942,361.7 L950.2,362.7 L956,361.7 L960.7,360.3 L967.7,362.1 L974.7,364.4 L981.7,365.6 L988.7,367.9 L998,370.3 L1005,371.4 L1010.8,373.2 L1011.4,376.7 L993.3,379 L900,379 L896.7,379.3 L855.8,363Z" fill="#f08000" stroke="#f08000" stroke-width="1.6" filter="url(#b1)"/>
<path d="M855.8,353.1 L859.3,347.8 L864,344.6 L871,345.3 L876.8,344 L881.5,341.1 L887.3,341.5 L894.3,344.1 L900,345.8 L907,350.4 L914,355.1 L923.3,357.4 L932.7,359.2 L942,361.7 L950.2,362.7 L956,361.7 L960.7,360.3 L967.7,362.1 L974.7,364.4 L981.7,365.6 L988.7,367.9 L998,370.3 L1005,371.4 L1010.8,373.2 L1011.4,376.7 L993.3,379 L900,379 L896.7,379.3 L855.8,363Z" fill="#a80000" filter="url(#b1)"/>
<path d="M1009.7,372.9 L1016.7,372.2 L1022.5,373.4 L1025.1,376.1 L1022.5,378.8 L1015.5,379 L1009.7,377.3Z" fill="#f0e010" filter="url(#b1)"/>
<path d="M1009.1,372.9 L1013.8,373.4 L1014.9,376.1 L1013.8,378.1 L1009.1,377.3Z" fill="#f08800" filter="url(#b1)"/>
<path d="M1088.1,377.7 L1093.1,376.3 L1098.7,374.2 L1103.7,372.1 L1106.5,374.9 L1106.5,380.6 L1098.7,381.7 L1089.5,382.7Z" fill="#ffa800" filter="url(#b1)"/>
<path d="M1086.7,378.5 L1091.7,376.3 L1097.3,373.5 L1103,370.7" fill="none" stroke="#b8f000" stroke-width="2" filter="url(#b1)"/>
<circle cx="1102.3" cy="378.7" r="2.2" fill="#a00000"/></g>
</g>
<g clip-path="url(#clip4)">
<g transform="translate(0,0.2)"><rect x="820" y="452" width="290" height="85" fill="#06bfb4"/>
<path d="M941.5,456.2 L978.3,456.2 L986.8,469 L1003.8,480.3 L1001,497.3 L978.3,498.7 L950,494.5 L941.5,494.5Z" fill="#04bf92" filter="url(#b2)"/>
<path d="M924.7,459 L955,459 L955,494 L931.7,496.3 L927,487 L924.7,470.7Z" fill="#04c09c" filter="url(#b2)"/>
<path d="M1003.8,460.5 L1057.7,460.5 L1063.3,480.3 L1057.7,498.7 L1040.7,511.5 L1026.5,518.6 L1009.5,498.7 L1006.7,480.3Z" fill="#08bcd0" filter="url(#b3)"/>
<path d="M978.3,457.7 L996.7,457.7 L995.3,465.5 L982.6,466.9Z" fill="#1590ee" filter="url(#b2)"/>
<path d="M1059.1,457.7 L1082.5,457.7 L1081.7,464.7 L1071.8,467.6 L1061.9,466.2Z" fill="#1a84ee" filter="url(#b2)"/>
<path d="M892,457.8 L914.2,457.8 L913,464.3 L903.7,466 L895.5,464.8Z" fill="#0cb0e0" filter="url(#b2)"/>
<path d="M1086,508.7 L1097.3,498.7 L1107.2,494.5 L1107.2,522.8 L1083.2,522.8Z" fill="#1494f0" filter="url(#b2)"/>
<path d="M1063.3,473.2 L1071.8,469 L1086,470.4 L1093.1,480.3 L1090.2,490.2 L1077.5,493.1 L1066.2,488.8Z" fill="#0cb868" filter="url(#b3)"/>
<path d="M1097.3,463.3 L1107.2,463.3 L1107.2,494.5 L1100.2,494.5Z" fill="#08c098" filter="url(#b2)"/>
<path d="M857,456.7 L896.7,456.7 L901.3,463.7 L903.7,475.3 L904.8,490.5 L900.2,487 L892,483.7 L885,482.6 L880.3,486.1 L873.3,487.2 L864,488.4 L858.8,492.3 L857,492.3Z" fill="#0cc41c" filter="url(#b1)"/>
<path d="M895.5,459 L903.7,464.8 L920,466 L927,475.3 L930.5,491.7 L927,498.7 L917.7,496.9 L908.3,493.4 L903.7,475.3Z" fill="#08bb50" filter="url(#b2)"/>
<path d="M858.8,491.7 L864,488.2 L873.3,487 L880.3,485.8 L885,482.6 L892,483.5 L899,485.8 L903.7,490.5 L908.3,494 L920,497.7 L927,498.1 L931.7,498.9 L955,499.3 L964.2,500.9 L985.4,507.2 L1006.7,514.3 L1026.5,512.9 L1027.2,525.7 L858.8,526.7Z" fill="#1094f4" filter="url(#b1)"/>
<path d="M889.7,485.8 L903.7,491.7 L915.3,498.7 L927,503.3 L943.3,506.8 L955,508 L955,517.3 L889.7,517.3Z" fill="#12a8f0" filter="url(#b2)"/>
<path d="M931.7,499.8 L943.3,500.4 L955,501.6 L964.2,502.3 L985.4,508.7 L1006.7,515.7 L1023.7,516.5" fill="none" stroke="#0e58e0" stroke-width="3" filter="url(#b2)"/>
<path d="M861.7,492.3 L875.7,492.8 L889.7,502.2 L887.3,506.8 L873.3,502.2 L861.7,498.1Z" fill="#1680f2" filter="url(#b2)"/>
<path d="M819.7,456.7 L859.1,456.7 L859.1,496.3 L819.7,496.3Z" fill="#c4f408" filter="url(#b1)"/>
<path d="M819.7,479.4 L832.5,478.3 L840.1,482.6 L842.4,487 L838.3,491.7 L819.7,491.7Z" fill="#50dc14" filter="url(#b2)"/>
<path d="M822,457.8 L853.5,457.8 L857.6,466 L855.8,477.7 L850,487 L844.2,481.2 L832.5,477.1 L824.3,474.8Z" fill="#f8dc00" filter="url(#b2)"/>
<path d="M825.5,459 L848.8,459 L850,467.2 L840.7,473 L826.7,471.3Z" fill="#ffb600" filter="url(#b2)"/>
<path d="M819.7,456.7 L826.7,456.7 L824.3,464.8 L819.7,466Z" fill="#40d818" filter="url(#b2)"/>
<path d="M903.7,469.5 L908.3,469.5 L914.2,476.5 L921.2,482.3 L925.3,489.3 L923.5,496.9 L917.7,497.7 L910.7,494 L904.8,488.2 L901.3,482.3 L901.9,474.2Z" fill="#f4ec04" filter="url(#b1)"/>
<path d="M904.3,474.2 L908.3,475.3 L914.2,482.3 L920,488.2 L920.6,495.2 L915.3,495.8 L910.7,490.5 L905.4,485.8 L903.4,480Z" fill="#ffd400" filter="url(#b2)"/>
<path d="M904.8,476.5 L907.2,477.1 L908.3,481.2 L905.4,482.3Z" fill="#ffa800" filter="url(#b1)"/>
<circle cx="862.8" cy="462.5" r="1.9" fill="#ff9800"/>
<circle cx="848.8" cy="466.9" r="1.9" fill="#ff9000"/>
<circle cx="837.2" cy="473.0" r="1.9" fill="#ff9800"/>
<circle cx="854.7" cy="492.3" r="1.9" fill="#ff9800"/>
<circle cx="855.8" cy="463.7" r="1.9" fill="#ffc000"/>
<circle cx="856.4" cy="477.1" r="1.9" fill="#ffc000"/>
<circle cx="841.3" cy="460.8" r="1.9" fill="#f08000"/>
<circle cx="918.8" cy="461.1" r="1.9" fill="#ff8000"/>
<circle cx="939.8" cy="486.8" r="1.9" fill="#e8f000"/>
<circle cx="903.7" cy="495.8" r="1.9" fill="#10b040"/>
<circle cx="873.3" cy="475.3" r="1.9" fill="#b0f000"/>
<circle cx="872.8" cy="472.4" r="1.9" fill="#90e800"/>
<circle cx="875.1" cy="477.1" r="1.9" fill="#a0f000"/>
<circle cx="940.4" cy="479.1" r="1.9" fill="#10b850"/>
<circle cx="948.0" cy="480.6" r="1.9" fill="#10b860"/>
<circle cx="921.2" cy="468.9" r="1.9" fill="#10c030"/>
<circle cx="907.2" cy="461.3" r="1.9" fill="#10b850"/>
<circle cx="943.3" cy="461.3" r="1.9" fill="#10b860"/>
<circle cx="864.0" cy="492.3" r="1.9" fill="#10b8d0"/>
<circle cx="1100.4" cy="481.5" r="1.9" fill="#ff9000"/>
<circle cx="1062.6" cy="509.7" r="1.9" fill="#f8e800"/>
<circle cx="1018.0" cy="486.0" r="1.9" fill="#40d820"/>
<circle cx="980.9" cy="474.7" r="1.9" fill="#30d810"/>
<circle cx="1024.4" cy="473.0" r="1.9" fill="#18c030"/>
<circle cx="1043.5" cy="470.7" r="1.9" fill="#18c030"/>
<circle cx="1073.7" cy="521.4" r="1.9" fill="#18c030"/>
<circle cx="1070.8" cy="501.6" r="1.9" fill="#10b840"/>
<circle cx="1086.7" cy="489.5" r="1.9" fill="#10b840"/>
<circle cx="996.0" cy="500.6" r="1.9" fill="#10b840"/>
<circle cx="991.8" cy="494.1" r="1.9" fill="#10b848"/>
<circle cx="1050.3" cy="476.1" r="1.9" fill="#10b850"/>
<circle cx="1034.3" cy="506.5" r="1.9" fill="#10b858"/>
<circle cx="1012.3" cy="508.0" r="1.9" fill="#10b860"/>
<circle cx="962.0" cy="486.0" r="1.9" fill="#10b850"/>
<circle cx="965.6" cy="471.8" r="1.9" fill="#10b850"/>
<circle cx="1008.1" cy="469.7" r="1.9" fill="#10b850"/>
<circle cx="1035.0" cy="461.2" r="1.9" fill="#10b850"/>
<circle cx="964.2" cy="461.2" r="1.9" fill="#10b850"/>
<circle cx="955.7" cy="461.2" r="1.9" fill="#10b850"/>
<circle cx="1048.9" cy="509.4" r="1.9" fill="#10b870"/>
<circle cx="1095.2" cy="490.0" r="1.9" fill="#10b850"/>
<circle cx="981.7" cy="469.9" r="1.8" fill="#08b878" opacity="0.5"/>
<circle cx="1038.9" cy="465.3" r="1.8" fill="#08b878" opacity="0.5"/>
<circle cx="1018.8" cy="482.6" r="1.8" fill="#08b878" opacity="0.5"/>
<circle cx="935.1" cy="490.9" r="1.8" fill="#08b878" opacity="0.5"/>
<circle cx="931.6" cy="486.6" r="1.8" fill="#08b878" opacity="0.5"/>
<circle cx="937.2" cy="466.4" r="1.8" fill="#08b878" opacity="0.5"/>
<circle cx="999.3" cy="509.8" r="1.8" fill="#08b878" opacity="0.5"/>
<circle cx="946.7" cy="474.2" r="1.8" fill="#08b878" opacity="0.5"/>
<circle cx="1034.8" cy="516.9" r="1.8" fill="#08b878" opacity="0.5"/>
<circle cx="1026.0" cy="484.4" r="1.8" fill="#08b878" opacity="0.5"/>
<circle cx="1095.8" cy="463.7" r="1.8" fill="#08b878" opacity="0.5"/>
<circle cx="1075.2" cy="478.1" r="1.8" fill="#08b878" opacity="0.5"/>
<circle cx="950.2" cy="467.9" r="1.8" fill="#08b878" opacity="0.5"/>
<circle cx="979.0" cy="509.2" r="1.8" fill="#08b878" opacity="0.5"/>
<circle cx="956.6" cy="495.3" r="1.8" fill="#08b878" opacity="0.5"/>
<circle cx="1036.8" cy="483.0" r="1.8" fill="#08b878" opacity="0.5"/>
<circle cx="1020.9" cy="464.7" r="1.8" fill="#08b878" opacity="0.5"/>
<circle cx="935.4" cy="473.2" r="1.8" fill="#08b878" opacity="0.5"/>
<circle cx="1044.1" cy="486.2" r="1.8" fill="#08b878" opacity="0.5"/>
<circle cx="980.0" cy="495.5" r="1.8" fill="#08b878" opacity="0.5"/>
<circle cx="1004.3" cy="478.7" r="1.8" fill="#08b878" opacity="0.5"/>
<circle cx="1064.0" cy="502.2" r="1.8" fill="#08b878" opacity="0.5"/>
<circle cx="967.7" cy="494.9" r="1.8" fill="#08b878" opacity="0.5"/>
<circle cx="1016.9" cy="512.6" r="1.8" fill="#08b878" opacity="0.5"/>
<circle cx="1052.7" cy="478.0" r="1.8" fill="#08b878" opacity="0.5"/>
<circle cx="1096.5" cy="468.0" r="1.8" fill="#08b878" opacity="0.5"/>
<circle cx="998.2" cy="505.7" r="1.8" fill="#08b878" opacity="0.5"/>
<circle cx="951.6" cy="489.8" r="1.8" fill="#08b878" opacity="0.5"/>
<circle cx="931.9" cy="500.4" r="1.8" fill="#08b878" opacity="0.5"/>
<circle cx="1058.8" cy="494.8" r="1.8" fill="#08b878" opacity="0.5"/>
<circle cx="1078.2" cy="479.5" r="1.8" fill="#08b878" opacity="0.5"/>
<circle cx="1046.7" cy="496.1" r="1.8" fill="#08b878" opacity="0.5"/>
<circle cx="1026.5" cy="487.9" r="1.8" fill="#08b878" opacity="0.5"/>
<circle cx="1072.0" cy="516.7" r="1.8" fill="#08b878" opacity="0.5"/>
<circle cx="1008.0" cy="500.2" r="1.8" fill="#08b878" opacity="0.5"/>
<circle cx="935.6" cy="502.4" r="1.8" fill="#08b878" opacity="0.5"/>
<circle cx="1038.2" cy="519.6" r="1.8" fill="#08b878" opacity="0.5"/>
<circle cx="1068.8" cy="477.8" r="1.8" fill="#08b878" opacity="0.5"/>
<circle cx="992.5" cy="500.5" r="1.8" fill="#08b878" opacity="0.5"/>
<circle cx="928.9" cy="488.2" r="1.8" fill="#08b878" opacity="0.5"/>
<circle cx="954.4" cy="467.9" r="1.8" fill="#08b878" opacity="0.5"/>
<circle cx="935.3" cy="506.3" r="1.8" fill="#08b878" opacity="0.5"/>
<circle cx="947.6" cy="475.6" r="1.8" fill="#08b878" opacity="0.5"/>
<circle cx="993.4" cy="512.4" r="1.8" fill="#08b878" opacity="0.5"/>
<circle cx="939.1" cy="487.5" r="1.8" fill="#08b878" opacity="0.5"/>
<circle cx="1021.2" cy="513.1" r="1.8" fill="#08b878" opacity="0.5"/>
<circle cx="1068.4" cy="512.0" r="1.8" fill="#08b878" opacity="0.5"/>
<circle cx="973.7" cy="485.5" r="1.8" fill="#08b878" opacity="0.5"/>
<circle cx="987.8" cy="513.2" r="1.8" fill="#08b878" opacity="0.5"/>
<circle cx="1092.6" cy="469.9" r="1.8" fill="#08b878" opacity="0.5"/>
<circle cx="955.8" cy="474.7" r="1.8" fill="#08b878" opacity="0.5"/>
<circle cx="965.8" cy="489.6" r="1.8" fill="#08b878" opacity="0.5"/>
<circle cx="1028.1" cy="476.5" r="1.8" fill="#08b878" opacity="0.5"/>
<circle cx="925.7" cy="485.7" r="1.8" fill="#08b878" opacity="0.5"/>
<circle cx="989.6" cy="494.4" r="1.8" fill="#08b878" opacity="0.5"/>
<circle cx="1091.8" cy="501.7" r="1.8" fill="#08b878" opacity="0.5"/>
<circle cx="1015.2" cy="497.4" r="1.8" fill="#08b878" opacity="0.5"/>
<circle cx="1043.3" cy="464.2" r="1.8" fill="#08b878" opacity="0.5"/>
<circle cx="1082.4" cy="507.0" r="1.8" fill="#08b878" opacity="0.5"/>
<circle cx="1078.0" cy="508.1" r="1.8" fill="#08b878" opacity="0.5"/>
<circle cx="993.7" cy="484.5" r="1.8" fill="#08b878" opacity="0.5"/>
<circle cx="943.1" cy="498.4" r="1.8" fill="#08b878" opacity="0.5"/>
<circle cx="935.9" cy="465.0" r="1.8" fill="#08b878" opacity="0.5"/>
<circle cx="961.5" cy="470.6" r="1.8" fill="#08b878" opacity="0.5"/>
<circle cx="984.5" cy="464.1" r="1.8" fill="#08b878" opacity="0.5"/>
<circle cx="925.0" cy="469.9" r="1.8" fill="#08b878" opacity="0.5"/>
<circle cx="942.8" cy="482.5" r="1.8" fill="#08b878" opacity="0.5"/>
<circle cx="929.5" cy="512.6" r="1.8" fill="#08b878" opacity="0.5"/>
<circle cx="1032.5" cy="469.8" r="1.8" fill="#08b878" opacity="0.5"/>
<circle cx="969.1" cy="481.5" r="1.8" fill="#08b878" opacity="0.5"/></g>
</g>
<g clip-path="url(#clip5)">
<g transform="translate(0,0.5)"><rect x="820" y="590" width="290" height="85" fill="#06bc38"/>
<path d="M860,640 L900,632 L960,640 L1010,650 L1010,675 L860,675Z" fill="#04b44c" filter="url(#b3)"/>
<rect x="823" y="590" width="36" height="60" fill="#0abe34" filter="url(#b2)"/></g>
</g>
<path d="M768.5,184.5 V311.5 H1104.5" fill="none" stroke="#262626" stroke-width="1"/>
<path d="M768.5,184.5 h3.5" stroke="#262626" stroke-width="1"/>
<g transform="translate(764.2,188.2)" font-size="11.81" fill="#262626"><text x="-3.6" y="0" text-anchor="middle">0</text></g>
<path d="M768.5,216.5 h3.5" stroke="#262626" stroke-width="1"/>
<g transform="translate(764.2,220.2)" font-size="11.81" fill="#262626"><text x="-13.9" y="0" textLength="13.5" lengthAdjust="spacingAndGlyphs">50</text></g>
<path d="M768.5,248.5 h3.5" stroke="#262626" stroke-width="1"/>
<g transform="translate(764.2,252.2)" font-size="11.81" fill="#262626"><text x="-21.1" y="0" textLength="20.7" lengthAdjust="spacingAndGlyphs">100</text></g>
<path d="M768.5,280.5 h3.5" stroke="#262626" stroke-width="1"/>
<g transform="translate(764.2,284.2)" font-size="11.81" fill="#262626"><text x="-21.1" y="0" textLength="20.7" lengthAdjust="spacingAndGlyphs">150</text></g>
<path d="M768.5,311.5 h3.5" stroke="#262626" stroke-width="1"/>
<g transform="translate(764.2,315.2)" font-size="11.81" fill="#262626"><text x="-21.1" y="0" textLength="20.7" lengthAdjust="spacingAndGlyphs">200</text></g>
<g transform="translate(738.6,246.8) rotate(-90)" font-size="12.96" fill="#262626"><text x="-31.2" y="0" textLength="36.8" lengthAdjust="spacingAndGlyphs">Depth</text><text x="10.5" y="0" textLength="20.8" lengthAdjust="spacingAndGlyphs">(m)</text></g>
<path d="M768.5,322.5 V450.5 H1104.5" fill="none" stroke="#262626" stroke-width="1"/>
<path d="M768.5,322.5 h3.5" stroke="#262626" stroke-width="1"/>
<g transform="translate(764.2,326.2)" font-size="11.81" fill="#262626"><text x="-3.6" y="0" text-anchor="middle">0</text></g>
<path d="M768.5,354.5 h3.5" stroke="#262626" stroke-width="1"/>
<g transform="translate(764.2,358.2)" font-size="11.81" fill="#262626"><text x="-13.9" y="0" textLength="13.5" lengthAdjust="spacingAndGlyphs">50</text></g>
<path d="M768.5,386.5 h3.5" stroke="#262626" stroke-width="1"/>
<g transform="translate(764.2,390.2)" font-size="11.81" fill="#262626"><text x="-21.1" y="0" textLength="20.7" lengthAdjust="spacingAndGlyphs">100</text></g>
<path d="M768.5,418.5 h3.5" stroke="#262626" stroke-width="1"/>
<g transform="translate(764.2,422.2)" font-size="11.81" fill="#262626"><text x="-21.1" y="0" textLength="20.7" lengthAdjust="spacingAndGlyphs">150</text></g>
<path d="M768.5,450.5 h3.5" stroke="#262626" stroke-width="1"/>
<g transform="translate(764.2,454.2)" font-size="11.81" fill="#262626"><text x="-21.1" y="0" textLength="20.7" lengthAdjust="spacingAndGlyphs">200</text></g>
<g transform="translate(738.6,385.3) rotate(-90)" font-size="12.96" fill="#262626"><text x="-31.2" y="0" textLength="36.8" lengthAdjust="spacingAndGlyphs">Depth</text><text x="10.5" y="0" textLength="20.8" lengthAdjust="spacingAndGlyphs">(m)</text></g>
<path d="M768.5,461.5 V589.5 H1104.5" fill="none" stroke="#262626" stroke-width="1"/>
<path d="M768.5,461.5 h3.5" stroke="#262626" stroke-width="1"/>
<g transform="translate(764.2,465.2)" font-size="11.81" fill="#262626"><text x="-3.6" y="0" text-anchor="middle">0</text></g>
<path d="M768.5,493.5 h3.5" stroke="#262626" stroke-width="1"/>
<g transform="translate(764.2,497.2)" font-size="11.81" fill="#262626"><text x="-13.9" y="0" textLength="13.5" lengthAdjust="spacingAndGlyphs">50</text></g>
<path d="M768.5,525.5 h3.5" stroke="#262626" stroke-width="1"/>
<g transform="translate(764.2,529.2)" font-size="11.81" fill="#262626"><text x="-21.1" y="0" textLength="20.7" lengthAdjust="spacingAndGlyphs">100</text></g>
<path d="M768.5,557.5 h3.5" stroke="#262626" stroke-width="1"/>
<g transform="translate(764.2,561.2)" font-size="11.81" fill="#262626"><text x="-21.1" y="0" textLength="20.7" lengthAdjust="spacingAndGlyphs">150</text></g>
<path d="M768.5,589.5 h3.5" stroke="#262626" stroke-width="1"/>
<g transform="translate(764.2,593.2)" font-size="11.81" fill="#262626"><text x="-21.1" y="0" textLength="20.7" lengthAdjust="spacingAndGlyphs">200</text></g>
<g transform="translate(738.6,524.3) rotate(-90)" font-size="12.96" fill="#262626"><text x="-31.2" y="0" textLength="36.8" lengthAdjust="spacingAndGlyphs">Depth</text><text x="10.5" y="0" textLength="20.8" lengthAdjust="spacingAndGlyphs">(m)</text></g>
<path d="M768.5,600.5 V727.5 H1104.5" fill="none" stroke="#262626" stroke-width="1"/>
<path d="M768.5,600.5 h3.5" stroke="#262626" stroke-width="1"/>
<g transform="translate(764.2,604.2)" font-size="11.81" fill="#262626"><text x="-3.6" y="0" text-anchor="middle">0</text></g>
<path d="M768.5,632.5 h3.5" stroke="#262626" stroke-width="1"/>
<g transform="translate(764.2,636.2)" font-size="11.81" fill="#262626"><text x="-13.9" y="0" textLength="13.5" lengthAdjust="spacingAndGlyphs">50</text></g>
<path d="M768.5,664.5 h3.5" stroke="#262626" stroke-width="1"/>
<g transform="translate(764.2,668.2)" font-size="11.81" fill="#262626"><text x="-21.1" y="0" textLength="20.7" lengthAdjust="spacingAndGlyphs">100</text></g>
<path d="M768.5,696.5 h3.5" stroke="#262626" stroke-width="1"/>
<g transform="translate(764.2,700.2)" font-size="11.81" fill="#262626"><text x="-21.1" y="0" textLength="20.7" lengthAdjust="spacingAndGlyphs">150</text></g>
<path d="M768.5,727.5 h3.5" stroke="#262626" stroke-width="1"/>
<g transform="translate(764.2,731.2)" font-size="11.81" fill="#262626"><text x="-21.1" y="0" textLength="20.7" lengthAdjust="spacingAndGlyphs">200</text></g>
<g transform="translate(738.6,662.8) rotate(-90)" font-size="12.96" fill="#262626"><text x="-31.2" y="0" textLength="36.8" lengthAdjust="spacingAndGlyphs">Depth</text><text x="10.5" y="0" textLength="20.8" lengthAdjust="spacingAndGlyphs">(m)</text></g>
<path d="M810.5,727.5 v-4" stroke="#262626" stroke-width="1"/>
<g transform="translate(810,741.2)" font-size="11.81" fill="#262626"><text x="-18.4" y="0" textLength="36.8" lengthAdjust="spacingAndGlyphs">28May</text></g>
<path d="M894.5,727.5 v-4" stroke="#262626" stroke-width="1"/>
<g transform="translate(894,741.2)" font-size="11.81" fill="#262626"><text x="-18.4" y="0" textLength="36.8" lengthAdjust="spacingAndGlyphs">29May</text></g>
<path d="M978.5,727.5 v-4" stroke="#262626" stroke-width="1"/>
<g transform="translate(978,741.2)" font-size="11.81" fill="#262626"><text x="-18.4" y="0" textLength="36.8" lengthAdjust="spacingAndGlyphs">30May</text></g>
<path d="M1062.5,727.5 v-4" stroke="#262626" stroke-width="1"/>
<g transform="translate(1062,741.2)" font-size="11.81" fill="#262626"><text x="-18.4" y="0" textLength="36.8" lengthAdjust="spacingAndGlyphs">31May</text></g>
<rect x="1110" y="190.3" width="4.6" height="115.1" fill="url(#cmv)"/><path d="M1114.5,190.3 V305.4" stroke="#262626" stroke-width="1"/><path d="M1108,192.5 H1110 M1114,192.5 H1116" stroke="#262626" stroke-width="1"/><g transform="translate(1119.6,196.8)" font-size="13.58" fill="#262626"><text x="0.5" y="0" textLength="15.5" lengthAdjust="spacingAndGlyphs">20</text></g><path d="M1108,240.5 H1110 M1114,240.5 H1116" stroke="#262626" stroke-width="1"/><g transform="translate(1119.6,245)" font-size="13.58" fill="#262626"><text x="0.5" y="0" textLength="15.5" lengthAdjust="spacingAndGlyphs">18</text></g><path d="M1108,288.5 H1110 M1114,288.5 H1116" stroke="#262626" stroke-width="1"/><g transform="translate(1119.6,293)" font-size="13.58" fill="#262626"><text x="0.5" y="0" textLength="15.5" lengthAdjust="spacingAndGlyphs">16</text></g><g transform="translate(1155.2,247.6) rotate(-90)" font-size="15.05" fill="#262626"><text x="-61.4" y="0" textLength="89.7" lengthAdjust="spacingAndGlyphs">temperature</text><text x="34.0" y="0" textLength="27.3" lengthAdjust="spacingAndGlyphs">(°C)</text></g>
<rect x="1110" y="328.8" width="4.6" height="115.0" fill="url(#cmv)"/><path d="M1114.5,328.8 V443.8" stroke="#262626" stroke-width="1"/><path d="M1108,332.5 H1110 M1114,332.5 H1116" stroke="#262626" stroke-width="1"/><g transform="translate(1119.6,336.9)" font-size="13.58" fill="#262626"><text x="0.5" y="0" textLength="27.9" lengthAdjust="spacingAndGlyphs">36.5</text></g><path d="M1108,386.5 H1110 M1114,386.5 H1116" stroke="#262626" stroke-width="1"/><g transform="translate(1119.6,390.7)" font-size="13.58" fill="#262626"><text x="0.5" y="0" textLength="15.5" lengthAdjust="spacingAndGlyphs">36</text></g><path d="M1108,440.5 H1110 M1114,440.5 H1116" stroke="#262626" stroke-width="1"/><g transform="translate(1119.6,444.7)" font-size="13.58" fill="#262626"><text x="0.5" y="0" textLength="27.9" lengthAdjust="spacingAndGlyphs">35.5</text></g><g transform="translate(1168.3,386.2) rotate(-90)" font-size="15.05" fill="#262626"><text x="-25.2" y="0" textLength="50.5" lengthAdjust="spacingAndGlyphs">salinity</text></g>
<rect x="1110" y="468" width="4.6" height="114" fill="url(#cmv)"/><path d="M1114.5,468 V582" stroke="#262626" stroke-width="1"/><path d="M1108,468.5 H1110 M1114,468.5 H1116" stroke="#262626" stroke-width="1"/><g transform="translate(1119.6,473.1)" font-size="13.58" fill="#262626"><text x="4.1" y="0" text-anchor="middle">2</text></g><path d="M1108,524.5 H1110 M1114,524.5 H1116" stroke="#262626" stroke-width="1"/><g transform="translate(1119.6,529.5)" font-size="13.58" fill="#262626"><text x="4.1" y="0" text-anchor="middle">1</text></g><path d="M1108,581.5 H1110 M1114,581.5 H1116" stroke="#262626" stroke-width="1"/><g transform="translate(1119.6,586.1)" font-size="13.58" fill="#262626"><text x="4.1" y="0" text-anchor="middle">0</text></g><g transform="translate(1147,525) rotate(-90)" font-size="15.05" fill="#262626"><text x="-52.9" y="0" textLength="33.9" lengthAdjust="spacingAndGlyphs">chl-a</text><text x="-13.3" y="0" textLength="27.6" lengthAdjust="spacingAndGlyphs">(mg</text><text x="20.1" y="0" textLength="32.9" lengthAdjust="spacingAndGlyphs">m-3)</text></g>
<rect x="1110" y="606" width="4.6" height="115.2" fill="url(#cmv)"/><path d="M1114.5,606 V721.2" stroke="#262626" stroke-width="1"/><path d="M1108,622.5 H1110 M1114,622.5 H1116" stroke="#262626" stroke-width="1"/><g transform="translate(1119.6,627.1)" font-size="13.58" fill="#262626"><text x="0.5" y="0" textLength="23.8" lengthAdjust="spacingAndGlyphs">150</text></g><path d="M1108,661.5 H1110 M1114,661.5 H1116" stroke="#262626" stroke-width="1"/><g transform="translate(1119.6,666.1)" font-size="13.58" fill="#262626"><text x="0.5" y="0" textLength="23.8" lengthAdjust="spacingAndGlyphs">100</text></g><path d="M1108,700.5 H1110 M1114,700.5 H1116" stroke="#262626" stroke-width="1"/><g transform="translate(1119.6,704.9)" font-size="13.58" fill="#262626"><text x="0.5" y="0" textLength="15.5" lengthAdjust="spacingAndGlyphs">50</text></g><g transform="translate(1164,662.6) rotate(-90)" font-size="15.05" fill="#262626"><text x="-60.8" y="0" textLength="23.3" lengthAdjust="spacingAndGlyphs">Ox.</text><text x="-31.8" y="0" textLength="25.4" lengthAdjust="spacingAndGlyphs">sat.</text><text x="-0.7" y="0" textLength="32.0" lengthAdjust="spacingAndGlyphs">ratio</text><text x="37.1" y="0" textLength="23.8" lengthAdjust="spacingAndGlyphs">(%)</text></g>
<g transform="translate(1183.2,727.2) rotate(-90)" font-size="13.79" fill="#000"><text x="6.6" y="0" text-anchor="middle">©</text><text x="17.9" y="0" textLength="33.0" lengthAdjust="spacingAndGlyphs">IMOS</text><text x="56.2" y="0" textLength="81.7" lengthAdjust="spacingAndGlyphs">15-Apr-2024</text><text x="143.1" y="0" textLength="58.2" lengthAdjust="spacingAndGlyphs">18:02:17</text><text x="206.6" y="0" textLength="44.0" lengthAdjust="spacingAndGlyphs">Hobart</text><text x="255.9" y="0" textLength="33.0" lengthAdjust="spacingAndGlyphs">time.</text><text x="294.1" y="0" textLength="18.6" lengthAdjust="spacingAndGlyphs">QC</text><text x="317.9" y="0" textLength="30.6" lengthAdjust="spacingAndGlyphs">flags</text><text x="357.4" y="0" text-anchor="middle">1</text><text x="374.2" y="0" text-anchor="middle">2</text></g>
</svg>
</body></html>
